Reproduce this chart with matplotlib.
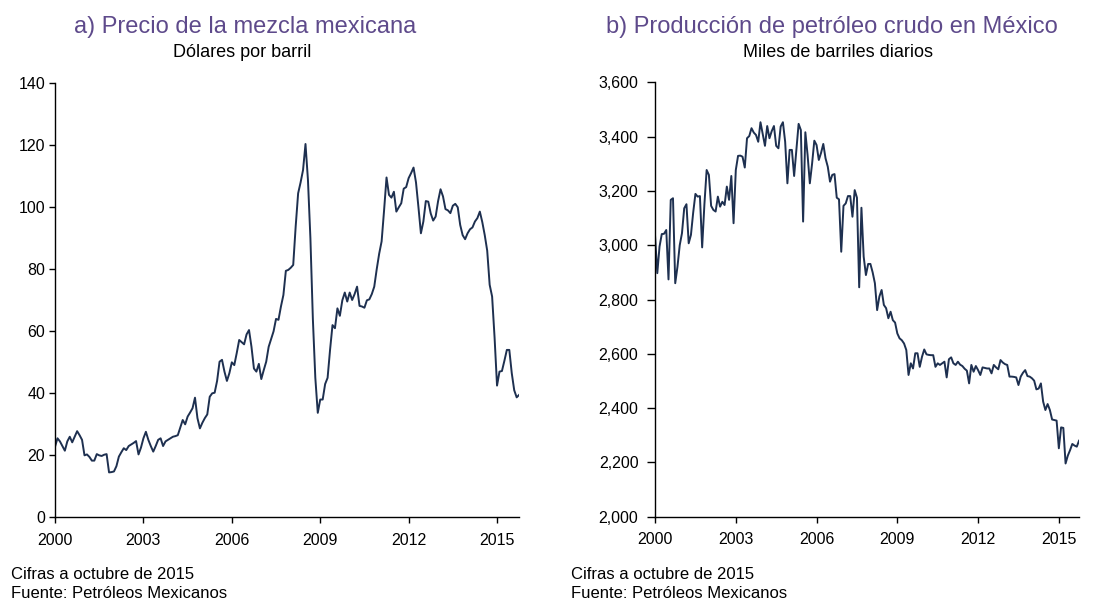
import numpy as np
import matplotlib
matplotlib.use('Agg')
import matplotlib.pyplot as plt
from matplotlib.ticker import StrMethodFormatter

plt.rcParams['font.family'] = ['Liberation Sans', 'DejaVu Sans']

# monthly data, Jan 2000 - Oct 2015
start_year = 2000
precio = [
    22.8, 25.5, 24.5, 23.0, 21.5, 24.5, 26.0, 24.2, 26.0, 27.8, 26.5, 25.0,   # 2000
    20.0, 20.3, 19.5, 18.3, 18.3, 20.4, 20.0, 19.8, 20.2, 20.4, 14.5, 14.6,   # 2001
    14.8, 16.5, 19.6, 21.0, 22.3, 21.7, 23.0, 23.5, 24.0, 24.6, 20.3, 22.5,   # 2002
    25.5, 27.6, 25.0, 23.0, 21.2, 23.0, 25.0, 25.5, 23.0, 24.5, 25.0, 25.5,   # 2003
    26.0, 26.2, 26.5, 29.0, 31.4, 30.0, 32.5, 33.8, 35.2, 38.6, 32.0, 28.7,   # 2004
    30.5, 32.0, 33.2, 38.9, 40.0, 40.2, 44.0, 50.2, 50.8, 47.0, 44.0, 46.5,   # 2005
    50.0, 49.1, 53.0, 57.2, 56.5, 55.8, 59.0, 60.4, 55.0, 48.0, 47.0, 49.5,   # 2006
    44.6, 47.5, 50.2, 55.0, 57.5, 60.0, 64.0, 63.7, 68.0, 71.7, 79.5, 79.8,   # 2007
    80.5, 81.4, 93.8, 104.5, 108.0, 112.0, 120.4, 108.8, 90.0, 64.0, 45.0, 33.7,  # 2008
    38.0, 38.0, 43.0, 45.0, 54.0, 62.0, 61.0, 67.4, 65.0, 70.0, 72.5, 69.6,   # 2009
    72.5, 70.1, 72.0, 74.4, 68.2, 68.0, 67.6, 70.0, 70.3, 72.0, 74.4, 80.0,   # 2010
    85.0, 89.0, 99.0, 109.6, 104.0, 103.1, 105.0, 98.6, 100.0, 101.3, 106.0, 106.5,  # 2011
    109.4, 111.0, 112.8, 108.0, 100.0, 91.6, 95.4, 102.0, 101.8, 98.0, 95.7, 97.0,  # 2012
    102.0, 105.8, 103.5, 99.4, 99.0, 98.1, 100.5, 101.1, 100.0, 94.3, 91.0, 89.7,  # 2013
    91.6, 92.9, 93.5, 95.4, 96.5, 98.6, 95.2, 91.0, 86.0, 75.0, 71.2, 58.0,   # 2014
    42.5, 47.0, 47.2, 50.5, 54.0, 54.0, 46.5, 41.0, 38.7, 39.5,               # 2015
]
produccion = [
    3035, 2897, 2995, 3041, 3042, 3056, 2874, 3167, 3173, 2860, 2921, 3000,   # 2000
    3044, 3136, 3151, 3007, 3038, 3120, 3189, 3179, 3181, 2992, 3150, 3277,   # 2001
    3259, 3145, 3130, 3124, 3179, 3142, 3160, 3148, 3216, 3167, 3255, 3081,   # 2002
    3277, 3329, 3330, 3326, 3286, 3394, 3402, 3431, 3415, 3406, 3381, 3453,   # 2003
    3410, 3366, 3439, 3394, 3420, 3439, 3366, 3357, 3437, 3453, 3381, 3228,   # 2004
    3351, 3351, 3255, 3350, 3447, 3424, 3087, 3416, 3332, 3228, 3300, 3385,   # 2005
    3369, 3314, 3340, 3373, 3320, 3289, 3234, 3259, 3262, 3175, 3169, 2976,   # 2006
    3145, 3154, 3181, 3181, 3105, 3203, 3175, 2845, 3138, 2958, 2890, 2931,   # 2007
    2931, 2900, 2860, 2761, 2811, 2835, 2780, 2768, 2731, 2755, 2724, 2715,   # 2008
    2675, 2657, 2650, 2638, 2614, 2522, 2565, 2546, 2602, 2602, 2552, 2589,   # 2009
    2616, 2598, 2596, 2595, 2595, 2552, 2565, 2559, 2565, 2571, 2513, 2580,   # 2010
    2587, 2565, 2559, 2571, 2560, 2555, 2545, 2538, 2491, 2559, 2534, 2555,   # 2011
    2540, 2522, 2550, 2548, 2546, 2546, 2528, 2559, 2550, 2543, 2577, 2568,   # 2012
    2562, 2559, 2516, 2516, 2515, 2513, 2485, 2516, 2530, 2540, 2518, 2516,   # 2013
    2510, 2501, 2469, 2472, 2491, 2424, 2393, 2415, 2393, 2358, 2356, 2354,   # 2014
    2252, 2329, 2327, 2196, 2225, 2245, 2268, 2262, 2258, 2280,               # 2015
]
year_ticks = [2000, 2003, 2006, 2009, 2012, 2015]

t = start_year + np.arange(len(precio)) / 12.0

line_color = '#1e3050'
title_color = '#5e4a8b'

fig = plt.figure(figsize=(11.05, 6.03), dpi=100)
ax1 = fig.add_axes([0.0498, 0.142, 0.420, 0.720])
ax2 = fig.add_axes([0.5928, 0.1431, 0.3837, 0.7204])

ax1.plot(t, precio, color=line_color, lw=1.4)
ax1.set_ylim(0, 140)
ax1.set_yticks(range(0, 141, 20))

ax2.plot(t, produccion, color=line_color, lw=1.4)
ax2.set_ylim(2000, 3600)
ax2.set_yticks(range(2000, 3601, 200))
ax2.yaxis.set_major_formatter(StrMethodFormatter('{x:,.0f}'))

for ax in (ax1, ax2):
    ax.set_xlim(t[0], t[-1])
    ax.set_xticks(year_ticks)
    ax.set_xticklabels([str(y) for y in year_ticks])
    for s in ('top', 'right'):
        ax.spines[s].set_visible(False)
    for s in ('left', 'bottom'):
        ax.spines[s].set_linewidth(1.0)
    ax.tick_params(direction='out', width=1.0, labelsize=11.5)
    ax.tick_params(axis='x', length=4, pad=7)
    ax.patch.set_alpha(0)

ax1.tick_params(axis='y', length=4, pad=3)
ax2.tick_params(axis='y', length=6, pad=6)

fig.text(0.222, 0.955, 'a) Precio de la mezcla mexicana', ha='center', va='center',
         fontsize=17, color=title_color)
fig.text(0.219, 0.913, 'Dólares por barril', ha='center', va='center', fontsize=13)
fig.text(0.753, 0.955, 'b) Producción de petróleo crudo en México', ha='center', va='center',
         fontsize=17, color=title_color)
fig.text(0.758, 0.913, 'Miles de barriles diarios', ha='center', va='center', fontsize=13)

for x0 in (0.010, 0.517):
    fig.text(x0, 0.047, 'Cifras a octubre de 2015', ha='left', va='center', fontsize=12)
    fig.text(x0, 0.016, 'Fuente: Petróleos Mexicanos', ha='left', va='center', fontsize=12)

fig.savefig('out.png', dpi=100)
